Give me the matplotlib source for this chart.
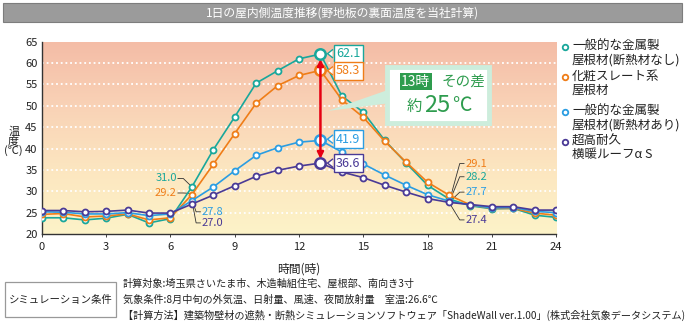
import numpy as np
import matplotlib
matplotlib.use("Agg")
import matplotlib.pyplot as plt
from matplotlib.colors import LinearSegmentedColormap
from matplotlib.lines import Line2D
from matplotlib.patches import Rectangle, FancyBboxPatch, Polygon

plt.rcParams["font.family"] = ["Noto Sans CJK JP", "DejaVu Sans"]

hours = list(range(25))

# 一般的な金属製屋根材(断熱材なし)
metal_bare = [23.8, 23.8, 23.3, 23.7, 24.6, 22.6, 23.6, 31.0, 39.7, 47.4, 55.3, 58.2, 61.0,
              62.1, 52.3, 48.5, 41.9, 36.6, 31.4, 28.2, 26.6, 25.9, 26.0, 24.4, 23.9]
# 化粧スレート系屋根材
slate = [24.6, 24.8, 24.0, 24.2, 24.7, 23.3, 23.8, 29.2, 36.3, 43.5, 50.6, 54.7, 57.1,
         58.3, 51.4, 47.3, 41.7, 36.8, 32.1, 29.1, 26.8, 26.0, 26.0, 24.9, 24.4]
# 一般的な金属製屋根材(断熱材あり)
metal_ins = [25.2, 25.1, 24.7, 24.7, 25.0, 24.3, 24.7, 27.8, 31.0, 34.8, 38.4, 40.2, 41.5,
             41.9, 39.2, 36.4, 33.8, 31.4, 29.2, 27.7, 26.8, 26.1, 26.2, 25.3, 25.0]
# 超高耐久横暖ルーフα S
yokodan = [25.5, 25.5, 25.2, 25.3, 25.6, 24.9, 24.9, 27.0, 29.1, 31.3, 33.5, 34.9, 35.9,
           36.6, 34.5, 33.2, 31.4, 29.8, 28.3, 27.4, 26.9, 26.4, 26.4, 25.6, 25.6]

series = [metal_bare, slate, metal_ins, yokodan]
colors = ["#19a79b", "#ef7d18", "#2b9de2", "#4a3a96"]
legend_labels = ["一般的な金属製\n屋根材(断熱材なし)", "化粧スレート系\n屋根材",
                 "一般的な金属製\n屋根材(断熱材あり)", "超高耐久\n横暖ルーフα S"]

xticks = [0, 3, 6, 9, 12, 15, 18, 21, 24]
yticks = [20, 25, 30, 35, 40, 45, 50, 55, 60, 65]

peak_hour = 13
morning_hour = 7
evening_hour = 19

fig = plt.figure(figsize=(6.85, 3.31), dpi=100)
ax = fig.add_axes([0.061, 0.293, 0.751, 0.581])

# background gradient
cmap = LinearSegmentedColormap.from_list(
    "bg", ["#fdf3c8", "#fce6c0", "#f9d2b6", "#f4bca6"])
grad = np.linspace(0, 1, 256).reshape(-1, 1)
ax.imshow(grad, extent=[0, 24, 20, 65], origin="lower", aspect="auto",
          cmap=cmap, zorder=0)

for yv in yticks[1:-1]:
    ax.axhline(yv, color="white", lw=1.3, ls=(0, (1, 1.6)), zorder=1)

for vals, c in zip(series, colors):
    ax.plot(hours, vals, color=c, lw=1.2, marker="o", ms=4.3, mfc="white",
            mec=c, mew=1.3, zorder=3)
    ax.plot([peak_hour], [vals[peak_hour]], marker="o", ms=7.5, mfc="white",
            mec=c, mew=1.8, zorder=4)

ax.set_xlim(0, 24)
ax.set_ylim(20, 65)
ax.set_xticks(xticks)
ax.set_yticks(yticks)
ax.tick_params(axis="both", labelsize=8, colors="#222222", length=2, width=0.6)
ax.tick_params(axis="y", length=0, pad=3)
for s in ["top", "right"]:
    ax.spines[s].set_visible(False)
for s in ["left", "bottom"]:
    ax.spines[s].set_color("#333333")
    ax.spines[s].set_linewidth(1.0)

ax.set_xlabel("時間(時)", fontsize=8.5, color="#222222", labelpad=8)
fig.text(0.020, 0.574, "温\n度\n(℃)", fontsize=8, ha="center", va="center",
         linespacing=0.9, color="#222222")

# red double arrow at 13h
ax.annotate("", xy=(peak_hour, yokodan[peak_hour] + 1.0),
            xytext=(peak_hour, metal_bare[peak_hour] - 1.2),
            arrowprops=dict(arrowstyle="<|-|>", color="#e60012", lw=1.8,
                            mutation_scale=9, shrinkA=0, shrinkB=0), zorder=5)

# peak value tags with a small notch on the left
peak_offsets = [0.1, -0.1, 0.3, 0.0]
for vals, c, dy in zip(series, colors, peak_offsets):
    ty = vals[peak_hour] + dy
    ax.text(peak_hour + 1.3, ty, f"{vals[peak_hour]:.1f}",
            fontsize=9, color=c, ha="center", va="center", zorder=6,
            bbox=dict(boxstyle="square,pad=0.2", fc="white", ec=c, lw=1.0))
    ax.add_patch(Polygon([(peak_hour + 0.33, ty), (peak_hour + 0.56, ty + 0.9),
                          (peak_hour + 0.56, ty - 0.9)], closed=True,
                         fc="white", ec="none", zorder=7))
    ax.plot([peak_hour + 0.56, peak_hour + 0.33, peak_hour + 0.56],
            [ty + 0.9, ty, ty - 0.9], color=c, lw=1.0, zorder=7)

# morning labels (7h)
leader = "#333333"
morning_pos = [(6.3, 33.0, "left"), (6.3, 29.6, "left"), (7.45, 25.2, "right"), (7.45, 22.6, "right")]
for vals, c, (tx, ty, side) in zip(series, colors, morning_pos):
    v = vals[morning_hour]
    if side == "left":
        ax.plot([tx + 0.05, tx + 0.3, morning_hour - 0.05], [ty, ty, v + 0.3],
                color=leader, lw=0.6, zorder=2)
        ax.text(tx, ty, f"{v:.1f}", fontsize=8, color=c, ha="right", va="center")
    else:
        ax.plot([tx - 0.05, tx - 0.25, morning_hour + 0.05], [ty, ty, v - 0.4],
                color=leader, lw=0.6, zorder=2)
        ax.text(tx, ty, f"{v:.1f}", fontsize=8, color=c, ha="left", va="center")

# evening labels (19h)
evening_y = [33.4, 36.5, 29.8, 23.3]
for vals, c, ty in zip(series, colors, evening_y):
    v = vals[evening_hour]
    ax.plot([evening_hour, evening_hour + 0.5, evening_hour + 0.7], [yokodan[evening_hour], ty, ty],
            color=leader, lw=0.6, zorder=2)
    ax.text(evening_hour + 0.75, ty, f"{v:.1f}", fontsize=8, color=c,
            ha="left", va="center")

# callout box
green = "#2e9c4e"
wedge = Polygon([(13.35, 48.8), (16.2, 53.8), (16.2, 50.6)], closed=True,
                fc="#cdeddc", ec="none", zorder=6)
ax.add_patch(wedge)
box = FancyBboxPatch((16.1, 46.0), 4.75, 13.1, boxstyle="square,pad=0",
                     fc="white", ec="#cdeddc", lw=3.5, zorder=7)
ax.add_patch(box)
ax.text(17.45, 55.6, "13時", fontsize=10, color="white", ha="center", va="center",
        zorder=8, bbox=dict(boxstyle="square,pad=0.1", fc=green, ec="none"))
ax.text(19.65, 55.6, "その差", fontsize=10.5, color=green, ha="center", va="center", zorder=8)
ax.text(17.4, 49.8, "約", fontsize=11, color=green, ha="center", va="center", zorder=8)
ax.text(18.45, 50.1, "25", fontsize=17, color=green, ha="center", va="center", zorder=8)
ax.text(19.6, 50.0, "℃", fontsize=14, color=green, ha="center", va="center", zorder=8)

# legend
leg_y = [0.858, 0.766, 0.662, 0.572]
for c, lab, ly in zip(colors, legend_labels, leg_y):
    fig.add_artist(Line2D([0.825], [ly], marker="o", ms=4, mfc="white", mec=c,
                          mew=1.3, transform=fig.transFigure))
    fig.text(0.835, ly + 0.022, lab, fontsize=9, color="#222222", ha="left",
             va="top", linespacing=1.05)

# title bar
fig.add_artist(Rectangle((0.004, 0.933), 0.992, 0.058, transform=fig.transFigure,
                         fc="#9b9b9b", ec="#7d7d7d", lw=0.8))
fig.text(0.5, 0.962, "1日の屋内側温度推移(野地板の裏面温度を当社計算)", fontsize=8.5,
         color="white", ha="center", va="center")

# conditions
fig.add_artist(Rectangle((0.007, 0.042), 0.162, 0.105, transform=fig.transFigure,
                         fc="white", ec="#999999", lw=0.9))
fig.text(0.088, 0.095, "シミュレーション条件", fontsize=7.5, color="#222222",
         ha="center", va="center")
cond_lines = ["計算対象:埼玉県さいたま市、木造軸組住宅、屋根部、南向き3寸",
              "気象条件:8月中旬の外気温、日射量、風速、夜間放射量　室温:26.6℃",
              "【計算方法】建築物壁材の遮熱・断熱シミュレーションソフトウェア「ShadeWall ver.1.00」(株式会社気象データシステム)"]
for i, line in enumerate(cond_lines):
    fig.text(0.179, 0.143 - i * 0.048, line, fontsize=7.3, color="#222222",
             ha="left", va="center")

fig.savefig("out.png", dpi=100)
